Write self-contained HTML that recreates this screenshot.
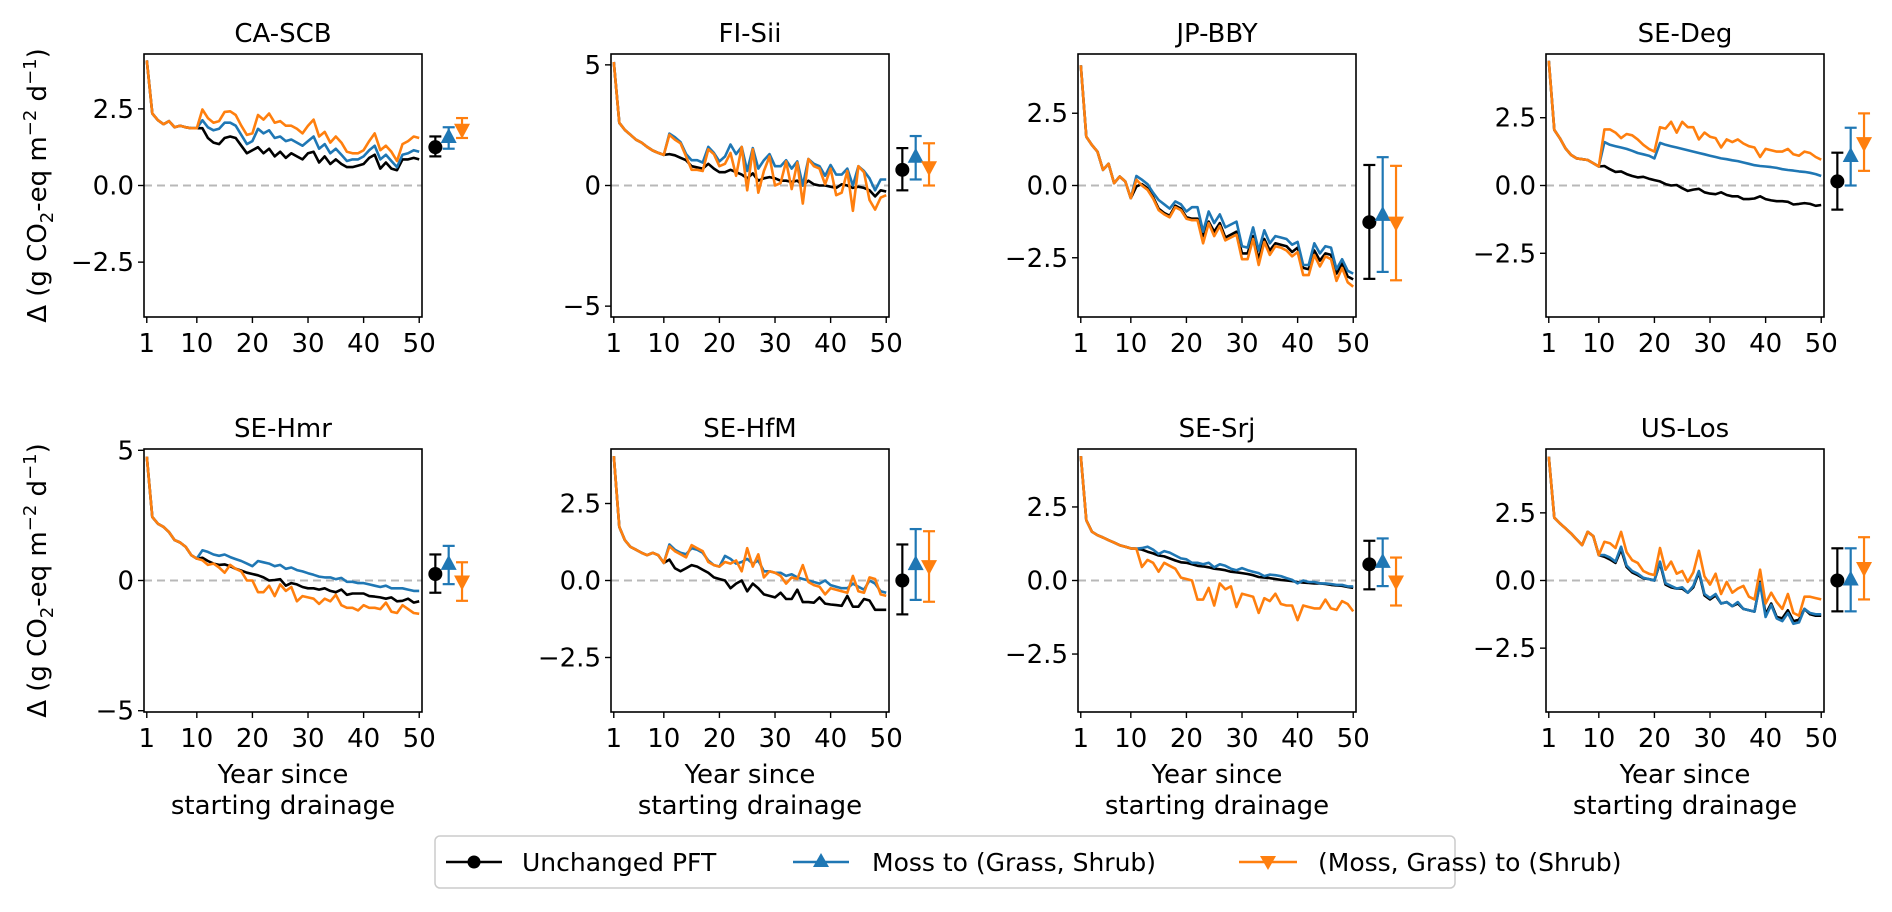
<!DOCTYPE html>
<html><head><meta charset="utf-8">
<style>
html,body{margin:0;padding:0;background:#fff;}
svg text{font-family:"DejaVu Sans","Liberation Sans",sans-serif;fill:#000;}
</style></head>
<body>
<svg id="fig" width="1892" height="907" viewBox="0 0 1892 907" xmlns="http://www.w3.org/2000/svg">
<g>
<rect x="435" y="836" width="1020" height="52" rx="5" fill="#fff" stroke="#cccccc" stroke-width="1.5"/>
<g>
<line x1="446" y1="862" x2="502" y2="862" stroke="#000" stroke-width="2.5"/><circle cx="474" cy="862" r="6.5" fill="#000"/>
<text x="522" y="871" font-size="25">Unchanged PFT</text></g>
<g>
<line x1="793" y1="862" x2="849" y2="862" stroke="#1f77b4" stroke-width="2.5"/><polygon points="821,853 829,867 813,867" fill="#1f77b4"/>
<text x="872" y="871" font-size="25">Moss to (Grass, Shrub)</text></g>
<g>
<line x1="1239" y1="862" x2="1297" y2="862" stroke="#ff7f0e" stroke-width="2.5"/><polygon points="1260,856 1276,856 1268,870" fill="#ff7f0e"/>
<text x="1318" y="871" font-size="25">(Moss, Grass) to (Shrub)</text></g>
</g>
</svg>
<script>
const siteNames = ["CA-SCB","FI-Sii","JP-BBY","SE-Deg","SE-Hmr","SE-HfM","SE-Srj","US-Los"];
const yHalfRange = [4.29,5.45,4.55,4.85,5.05,4.27,4.47,4.86];
const yTicks = [[-2.5,0,2.5],[-5,0,5],[-2.5,0,2.5],[-2.5,0,2.5],[-5,0,5],[-2.5,0,2.5],[-2.5,0,2.5],[-2.5,0,2.5]];
const xTicks = [1,10,20,30,40,50];

const caBlack=[4.08,2.35,2.13,2.0,2.1,1.9,1.95,1.9,1.87,1.87,1.87,1.55,1.4,1.35,1.55,1.6,1.55,1.3,1.05,1.15,1.25,1.05,1.2,0.95,1.1,0.9,1.05,0.95,0.85,1.05,1.1,0.75,0.95,0.7,0.85,0.7,0.6,0.6,0.65,0.7,0.9,1.0,0.55,0.75,0.55,0.5,0.85,0.85,0.9,0.85];
const caBlue=[4.08,2.35,2.13,2.0,2.1,1.9,1.95,1.9,1.87,1.87,2.13,1.9,1.8,1.85,2.05,2.05,1.95,1.65,1.35,1.45,1.85,1.7,1.8,1.55,1.6,1.45,1.5,1.4,1.3,1.45,1.6,1.2,1.35,1.05,1.2,1.0,0.8,0.85,0.85,0.95,1.15,1.3,0.85,1.0,0.8,0.6,1.0,1.05,1.15,1.1];
const caOrange=[4.08,2.35,2.13,2.0,2.1,1.9,1.95,1.9,1.87,1.87,2.48,2.2,2.05,2.1,2.4,2.42,2.3,1.95,1.65,1.7,2.3,2.15,2.35,2.05,2.1,1.95,1.95,1.85,1.7,1.95,2.15,1.6,1.75,1.4,1.6,1.4,1.1,1.05,1.05,1.15,1.45,1.7,1.15,1.3,1.1,0.8,1.35,1.45,1.6,1.55];

const fiBlack=[5.12,2.6,2.3,2.1,1.9,1.78,1.6,1.45,1.35,1.27,1.3,1.25,1.15,1.05,0.8,0.75,0.7,0.9,0.7,0.55,0.55,0.65,0.55,0.45,0.3,0.5,0.2,0.3,0.35,0.3,0.2,0.2,0.15,0.2,0.0,0.2,0.05,0.0,0.0,-0.05,-0.1,0.05,0.0,-0.1,-0.05,-0.1,-0.2,-0.45,-0.2,-0.25];
const fiBlue=[5.12,2.6,2.3,2.1,1.9,1.78,1.6,1.45,1.35,1.27,2.15,2.0,1.8,1.3,1.05,1.05,0.95,1.6,1.35,1.0,1.2,1.7,1.3,1.6,0.6,1.55,0.7,1.05,1.3,0.8,0.8,1.05,0.7,1.0,0.0,1.1,0.9,0.8,0.4,0.85,0.45,0.45,0.7,0.0,0.8,0.6,0.3,-0.2,0.25,0.25];
const fiOrange=[5.12,2.6,2.3,2.1,1.9,1.78,1.6,1.45,1.35,1.27,2.1,1.9,1.75,1.2,0.65,0.65,0.6,1.5,1.3,0.8,0.9,1.35,0.4,1.6,-0.2,1.5,-0.3,0.6,1.2,0.0,0.1,1.0,-0.15,0.95,-0.75,1.1,0.8,0.7,0.05,0.7,-0.4,-0.3,0.6,-1.05,0.8,0.55,-0.6,-1.0,-0.5,-0.4];

const jpBlack=[4.16,1.69,1.4,1.17,0.54,0.75,0.08,0.31,0.14,-0.44,-0.03,0.05,-0.1,-0.4,-0.8,-0.95,-1.05,-0.7,-0.8,-1.1,-1.15,-1.15,-1.75,-1.25,-1.6,-1.3,-1.8,-1.7,-1.6,-2.35,-2.35,-1.75,-2.55,-1.85,-2.25,-2.0,-2.05,-2.1,-2.3,-2.15,-2.85,-2.9,-2.25,-2.6,-2.35,-2.4,-3.05,-2.7,-3.15,-3.25];
const jpBlue=[4.16,1.69,1.4,1.17,0.54,0.75,0.08,0.31,0.14,-0.44,0.33,0.2,0.05,-0.25,-0.5,-0.65,-0.8,-0.55,-0.65,-0.9,-0.75,-0.75,-1.6,-0.9,-1.3,-1.0,-1.45,-1.35,-1.25,-2.1,-2.15,-1.45,-2.25,-1.55,-2.0,-1.75,-1.8,-1.85,-2.05,-1.95,-2.75,-2.75,-2.0,-2.35,-2.1,-2.15,-2.9,-2.55,-2.95,-3.05];
const jpOrange=[4.16,1.69,1.4,1.17,0.54,0.75,0.08,0.31,0.14,-0.44,0.2,0.0,-0.15,-0.45,-0.85,-1.0,-1.1,-0.75,-0.85,-1.15,-1.2,-1.2,-2.0,-1.3,-1.75,-1.4,-1.9,-1.8,-1.7,-2.55,-2.55,-1.85,-2.75,-1.95,-2.4,-2.1,-2.15,-2.25,-2.45,-2.3,-3.1,-3.1,-2.4,-2.8,-2.45,-2.55,-3.3,-2.85,-3.35,-3.5];

const degBlack=[4.6,2.05,1.74,1.37,1.13,1.0,0.97,0.94,0.82,0.7,0.72,0.6,0.5,0.52,0.42,0.35,0.3,0.32,0.25,0.2,0.15,0.05,0.0,0.02,-0.1,-0.2,-0.15,-0.12,-0.25,-0.3,-0.32,-0.25,-0.35,-0.4,-0.4,-0.5,-0.5,-0.48,-0.4,-0.5,-0.55,-0.58,-0.58,-0.6,-0.7,-0.68,-0.65,-0.68,-0.75,-0.72];
const degBlue=[4.6,2.05,1.74,1.37,1.13,1.0,0.97,0.94,0.82,0.7,1.6,1.5,1.45,1.4,1.35,1.28,1.2,1.15,1.1,1.0,1.57,1.5,1.45,1.4,1.35,1.3,1.25,1.2,1.15,1.1,1.05,1.0,0.97,0.93,0.9,0.85,0.8,0.75,0.72,0.7,0.68,0.65,0.6,0.57,0.55,0.52,0.5,0.47,0.42,0.35];
const degOrange=[4.6,2.05,1.74,1.37,1.13,1.0,0.97,0.94,0.82,0.7,2.07,2.07,1.95,1.75,1.9,1.85,1.7,1.5,1.35,1.25,2.15,2.1,2.35,1.95,2.35,2.15,2.15,1.7,1.95,1.8,1.75,1.4,1.7,1.6,1.7,1.55,1.45,1.4,1.05,1.35,1.3,1.25,1.25,1.35,1.15,1.1,1.25,1.2,1.05,0.95];

const hmrBlack=[4.76,2.44,2.18,2.06,1.86,1.55,1.46,1.29,0.97,0.84,0.87,0.75,0.65,0.6,0.62,0.55,0.45,0.38,0.3,0.25,0.2,0.12,0.0,0.02,0.05,-0.2,-0.1,-0.15,-0.25,-0.3,-0.3,-0.35,-0.3,-0.4,-0.45,-0.35,-0.55,-0.5,-0.5,-0.5,-0.6,-0.62,-0.65,-0.7,-0.65,-0.8,-0.78,-0.7,-0.85,-0.8];
const hmrBlue=[4.76,2.44,2.18,2.06,1.86,1.55,1.46,1.29,0.97,0.84,1.16,1.1,1.0,0.95,1.0,0.9,0.82,0.75,0.65,0.55,0.75,0.7,0.65,0.55,0.6,0.45,0.5,0.4,0.35,0.28,0.22,0.15,0.12,0.12,0.05,0.1,-0.05,-0.05,-0.1,-0.1,-0.15,-0.2,-0.25,-0.2,-0.3,-0.3,-0.3,-0.35,-0.4,-0.4];
const hmrOrange=[4.76,2.44,2.18,2.06,1.86,1.55,1.46,1.29,0.97,0.84,0.78,0.6,0.65,0.5,0.3,0.6,0.45,0.35,0.0,0.0,-0.45,-0.45,-0.2,-0.6,-0.15,-0.4,-0.25,-0.8,-0.6,-0.65,-0.7,-0.9,-0.7,-0.8,-0.55,-0.95,-1.05,-1.05,-1.15,-0.95,-1.05,-1.05,-1.1,-0.85,-1.2,-1.25,-0.95,-1.1,-1.25,-1.28];

const hfmBlack=[4.04,1.74,1.31,1.09,1.0,0.9,0.82,0.9,0.82,0.57,0.68,0.4,0.3,0.4,0.5,0.45,0.35,0.25,0.1,0.05,0.0,-0.25,-0.1,0.0,-0.35,-0.1,-0.25,-0.45,-0.5,-0.55,-0.4,-0.6,-0.6,-0.3,-0.7,-0.7,-0.72,-0.55,-0.75,-0.78,-0.8,-0.82,-0.5,-0.85,-0.85,-0.6,-0.65,-0.95,-0.95,-0.95];
const hfmBlue=[4.04,1.74,1.31,1.09,1.0,0.9,0.82,0.9,0.82,0.57,1.17,1.0,0.9,0.85,1.05,1.0,0.9,0.65,0.5,0.45,0.8,0.7,0.55,0.6,0.7,0.55,0.65,0.3,0.3,0.25,0.25,0.15,0.2,0.1,0.05,0.0,-0.05,-0.1,0.0,-0.15,-0.2,-0.25,-0.25,-0.1,-0.2,-0.3,0.0,-0.1,-0.35,-0.4];
const hfmOrange=[4.04,1.74,1.31,1.09,1.0,0.9,0.82,0.9,0.82,0.57,1.11,0.95,0.85,0.75,1.15,1.05,0.95,0.6,0.5,0.45,0.6,0.55,0.65,0.3,1.05,0.45,0.85,0.1,0.3,0.25,0.15,-0.1,0.1,0.05,0.5,-0.05,-0.15,-0.2,-0.45,-0.25,-0.3,-0.35,-0.4,0.15,-0.35,-0.4,0.1,0.05,-0.45,-0.5];

const srjBlack=[4.23,2.05,1.66,1.54,1.46,1.37,1.29,1.2,1.15,1.09,1.08,1.05,0.98,0.92,0.85,0.82,0.75,0.68,0.62,0.6,0.55,0.5,0.48,0.45,0.4,0.38,0.35,0.3,0.28,0.25,0.22,0.18,0.12,0.1,0.08,0.05,0.02,0.0,-0.02,-0.05,-0.07,-0.08,-0.1,-0.1,-0.12,-0.15,-0.17,-0.18,-0.22,-0.25];
const srjBlue=[4.23,2.05,1.66,1.54,1.46,1.37,1.29,1.2,1.15,1.09,1.08,1.1,1.15,1.05,0.9,1.0,0.95,0.85,0.75,0.72,0.6,0.6,0.55,0.6,0.45,0.55,0.5,0.4,0.35,0.42,0.35,0.3,0.25,0.15,0.2,0.18,0.15,0.08,0.02,-0.1,0.0,-0.05,-0.05,-0.1,-0.1,-0.12,-0.15,-0.15,-0.2,-0.2];
const srjOrange=[4.23,2.05,1.66,1.54,1.46,1.37,1.29,1.2,1.15,1.09,1.08,0.46,0.7,0.6,0.3,0.6,0.5,0.4,0.1,0.05,0.0,-0.65,-0.65,-0.25,-0.85,-0.1,-0.3,-0.2,-0.9,-0.45,-0.5,-0.55,-1.1,-0.6,-0.7,-0.45,-0.8,-0.85,-0.85,-1.35,-0.85,-0.9,-0.95,-0.95,-0.65,-0.95,-1.0,-0.7,-0.8,-1.05];

const losBlack=[4.58,2.32,2.11,1.93,1.74,1.52,1.31,1.8,1.64,0.94,0.88,0.78,0.65,1.15,0.5,0.3,0.2,0.08,0.05,0.0,0.65,-0.15,-0.25,-0.3,-0.3,-0.45,-0.25,0.3,-0.55,-0.7,-0.55,-0.85,-0.8,-0.95,-0.85,-1.05,-1.1,-1.15,-0.05,-1.25,-0.85,-1.35,-1.4,-1.1,-1.5,-1.45,-1.05,-1.25,-1.3,-1.3];
const losBlue=[4.58,2.32,2.11,1.93,1.74,1.52,1.31,1.8,1.64,0.94,0.94,0.85,0.7,1.25,0.55,0.35,0.25,0.1,0.05,0.0,0.7,-0.1,-0.2,-0.3,-0.25,-0.45,-0.2,0.35,-0.5,-0.65,-0.5,-0.85,-0.8,-0.95,-0.8,-1.05,-1.1,-1.15,-0.1,-1.35,-0.9,-1.4,-1.5,-1.2,-1.6,-1.55,-1.05,-1.2,-1.25,-1.25];
const losOrange=[4.58,2.32,2.11,1.93,1.74,1.52,1.31,1.8,1.64,0.94,1.43,1.38,1.2,1.8,1.05,0.75,0.65,0.35,0.25,0.2,1.2,0.4,0.7,0.25,0.35,-0.05,0.3,1.1,0.15,-0.15,0.25,-0.5,-0.05,-0.45,-0.3,-0.2,-0.6,-0.7,0.4,-0.85,-0.45,-0.8,-1.05,-0.5,-1.2,-1.3,-0.6,-0.6,-0.65,-0.7];

// summary error bars: [center, low, high] per site
const errBlack=[[1.25,0.95,1.6],[0.65,-0.2,1.55],[-1.27,-3.23,0.71],[0.15,-0.89,1.21],[0.25,-0.47,1.0],[0.0,-1.1,1.17],[0.55,-0.3,1.35],[0.0,-1.14,1.19]];
const errBlue=[[1.55,1.2,1.9],[1.15,0.25,2.05],[-1.05,-2.99,0.98],[1.05,0.0,2.13],[0.6,-0.14,1.33],[0.5,-0.63,1.67],[0.6,-0.19,1.43],[0.0,-1.14,1.19]];
const errOrange=[[1.85,1.55,2.2],[0.8,0.0,1.75],[-1.25,-3.28,0.68],[1.6,0.54,2.66],[0.0,-0.78,0.7],[0.5,-0.69,1.6],[0.0,-0.85,0.78],[0.5,-0.7,1.6]];
const errX=[52.9,55.3,57.7];

const seriesBlack=[caBlack,fiBlack,jpBlack,degBlack,hmrBlack,hfmBlack,srjBlack,losBlack];
const seriesBlue=[caBlue,fiBlue,jpBlue,degBlue,hmrBlue,hfmBlue,srjBlue,losBlue];
const seriesOrange=[caOrange,fiOrange,jpOrange,degOrange,hmrOrange,hfmOrange,srjOrange,losOrange];

const NS="http://www.w3.org/2000/svg";
const svg=document.getElementById("fig");
const lefts=[144,611,1078,1546], tops=[54,449], W=278, H=263;
const COLORS=["#000000","#1f77b4","#ff7f0e"];
const FS=26;
function mk(tag,attrs,parent){const e=document.createElementNS(NS,tag);for(const k in attrs)e.setAttribute(k,attrs[k]);(parent||svg).appendChild(e);return e;}
function fmt(v,step){const s=(Math.abs(step)%1!==0)?v.toFixed(1):String(v);return s.replace("-","\u2212");}

siteNames.forEach((name,p)=>{
  const L=lefts[p%4], T=tops[Math.floor(p/4)];
  const half=yHalfRange[p];
  const xs=v=>L+(v-0.5)/50*W;
  const ys=v=>T+H/2-v/half*(H/2);
  const g=mk("g",{});
  
  
  const t=mk("text",{x:L+W/2,y:T-12,"font-size":FS,"text-anchor":"middle"},g);t.textContent=name;
  
  
  const z=mk("line",{x1:L,x2:L+W,y1:ys(0),y2:ys(0),stroke:"#b8b8b8","stroke-width":2,"stroke-dasharray":"8,5"},g);
  
  
  const cl="clip"+p;
  const cp=mk("clipPath",{id:cl},g);mk("rect",{x:L,y:T,width:W,height:H},cp);
  [seriesBlack[p],seriesBlue[p],seriesOrange[p]].forEach((arr,si)=>{
    const d=arr.map((v,i)=>(i?"L":"M")+xs(i+1).toFixed(1)+","+ys(v).toFixed(1)).join("");
    const path=mk("path",{d:d,fill:"none",stroke:COLORS[si],"stroke-width":2.6,"stroke-linejoin":"round","clip-path":"url(#"+cl+")"},g);
    
    
  });
  [errBlack[p],errBlue[p],errOrange[p]].forEach((e,si)=>{
    const x=xs(errX[si]), c=COLORS[si];
    const eg=mk("g",{},g);
    
    
    mk("line",{x1:x,x2:x,y1:ys(e[1]),y2:ys(e[2]),stroke:c,"stroke-width":2.2},eg);
    mk("line",{x1:x-6,x2:x+6,y1:ys(e[1]),y2:ys(e[1]),stroke:c,"stroke-width":2.2},eg);
    mk("line",{x1:x-6,x2:x+6,y1:ys(e[2]),y2:ys(e[2]),stroke:c,"stroke-width":2.2},eg);
    const cy=ys(e[0]);
    if(si===0) mk("circle",{cx:x,cy:cy,r:7,fill:c},eg);
    else if(si===1) mk("polygon",{points:`${x},${cy-10} ${x+8},${cy+5} ${x-8},${cy+5}`,fill:c},eg);
    else mk("polygon",{points:`${x-8},${cy-5} ${x+8},${cy-5} ${x},${cy+10}`,fill:c},eg);
  });
  const fr=mk("rect",{x:L,y:T,width:W,height:H,fill:"none",stroke:"#000","stroke-width":1.6},g);
  
  
  const yt=yTicks[p], step=yt[1]-yt[0];
  yt.forEach(v=>{
    mk("line",{x1:L-6,x2:L,y1:ys(v),y2:ys(v),stroke:"#000","stroke-width":1.4},g);
    const tx=mk("text",{x:L-10,y:ys(v)+9,"font-size":FS,"text-anchor":"end"},g);tx.textContent=fmt(v,step);
    
    
  });
  xTicks.forEach(v=>{
    mk("line",{x1:xs(v),x2:xs(v),y1:T+H,y2:T+H+6,stroke:"#000","stroke-width":1.4},g);
    const tx=mk("text",{x:xs(v),y:T+H+35,"font-size":FS,"text-anchor":"middle"},g);tx.textContent=String(v);
    
    
  });
  if(p>=4){
    const a=mk("text",{x:L+W/2,y:T+H+71,"font-size":FS,"text-anchor":"middle"},g);a.textContent="Year since";
    
    
    const b=mk("text",{x:L+W/2,y:T+H+102,"font-size":FS,"text-anchor":"middle"},g);b.textContent="starting drainage";
    
    
  }
  if(p%4===0){
    const yl=mk("text",{x:0,y:0,"font-size":FS,"text-anchor":"middle",transform:`translate(46,${T+H/2}) rotate(-90)`},g);
    
    
    yl.innerHTML='\u0394 (g CO<tspan font-size="18" dy="7">2</tspan><tspan dy="-7">-eq m</tspan><tspan font-size="18" dy="-10">\u22122</tspan><tspan dy="10"> d</tspan><tspan font-size="18" dy="-10">\u22121</tspan><tspan dy="10">)</tspan>';
  }
});
</script>
</body></html>
